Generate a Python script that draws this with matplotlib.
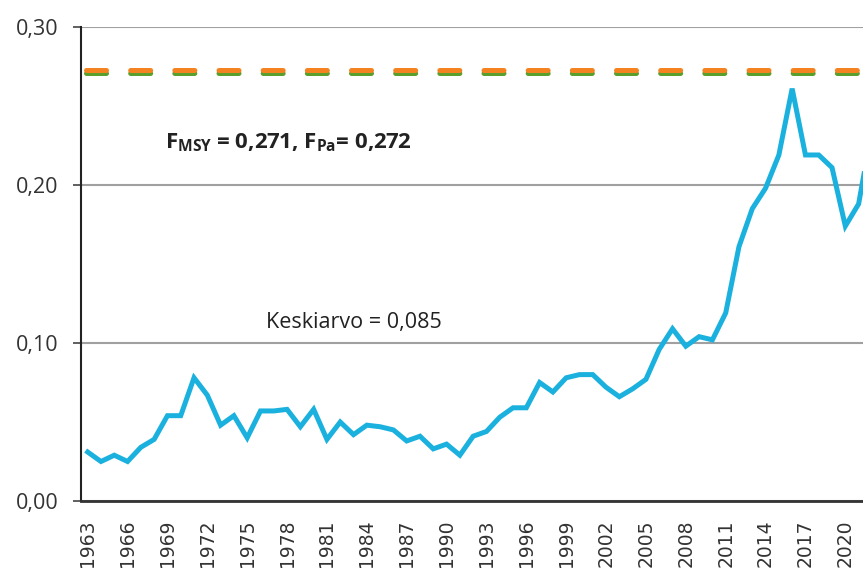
import matplotlib.pyplot as plt

plt.rcParams['mathtext.fontset'] = 'custom'
plt.rcParams['mathtext.rm'] = 'Open Sans'
plt.rcParams['mathtext.bf'] = 'Open Sans:bold'
plt.rcParams['lines.scale_dashes'] = False

# Kalastuskuolevuus vuosittain (luettu kuvasta)
years = list(range(1963, 2023))
f_values = [
    0.031, 0.025, 0.029, 0.025, 0.034, 0.039, 0.054, 0.054, 0.078, 0.067,
    0.048, 0.054, 0.040, 0.057, 0.057, 0.058, 0.047, 0.058, 0.039, 0.050,
    0.042, 0.048, 0.047, 0.045, 0.038, 0.041, 0.033, 0.036, 0.029, 0.041,
    0.044, 0.053, 0.059, 0.059, 0.075, 0.069, 0.078, 0.080, 0.080, 0.072,
    0.066, 0.071, 0.077, 0.096, 0.109, 0.098, 0.104, 0.102, 0.119, 0.161,
    0.185, 0.198, 0.219, 0.261, 0.219, 0.219, 0.211, 0.174, 0.188, 0.235,
]
f_msy = 0.271
f_pa = 0.272
y_ticks = [0.0, 0.1, 0.2, 0.3]
y_labels = ['0,00', '0,10', '0,20', '0,30']
x_ticks = list(range(1963, 2021, 3))

fig = plt.figure(figsize=(8.63, 5.77), dpi=100)
ax = fig.add_axes([0.0939, 0.1317, 0.9061, 0.8215])

# vertailuviivat (FMSY vihreä, FPa oranssi päällä)
ax.plot([1962.86, 2023], [f_msy, f_msy], color='#5a9e2c', lw=3.6,
        dashes=(14.4, 17.4), dash_capstyle='round', zorder=3)
ax.plot([1962.86, 2023], [f_pa + 0.0005, f_pa + 0.0005], color='#f58220', lw=3.6,
        dashes=(14.4, 17.4), dash_capstyle='round', zorder=4)

ax.plot(years, f_values, color='#1bb1de', lw=3.6, solid_joinstyle='miter', zorder=5)

ax.set_xlim(1962.5, 2021.33)
ax.set_ylim(0, 0.30)

ax.set_yticks(y_ticks)
ax.set_yticklabels(y_labels, family='Open Sans', fontsize=15.5, color='#333333')
ax.set_xticks(x_ticks)
ax.set_xticklabels([str(x) for x in x_ticks], rotation=90, fontsize=13.5,
                   color='#333333')
ax.tick_params(axis='x', length=0, pad=13)
ax.tick_params(axis='y', length=6, width=1.2, color='#444444', pad=10)

ax.grid(axis='y', color='#a0a0a0', lw=1.5, zorder=1)
ax.set_axisbelow(True)
for s in ['top', 'right']:
    ax.spines[s].set_visible(False)
ax.spines['left'].set_color('#222222')
ax.spines['left'].set_linewidth(1.5)
ax.spines['bottom'].set_color('#333333')
ax.spines['bottom'].set_linewidth(2)

ax.text(1983.0, 0.1127, 'Keskiarvo = 0,085', family='Open Sans', fontsize=15.5,
        ha='center', va='center', color='#222222')
ax.text(1968.8, 0.2266,
        r'$\mathbf{F_{MSY}}$' + ' = 0,271, ' + r'$\mathbf{F_{Pa}}$' + '= 0,272',
        family='Open Sans', fontweight='bold', fontsize=16,
        ha='left', va='center', color='#222222')

fig.savefig('out.png', dpi=100)
